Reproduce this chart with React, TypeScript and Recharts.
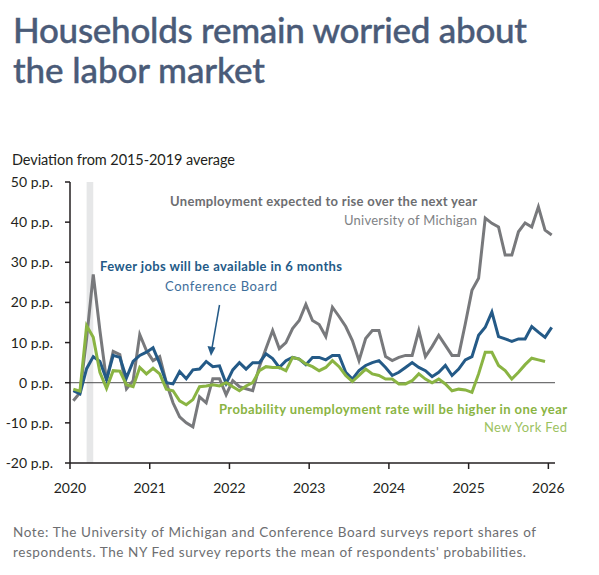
import { LineChart, Line, XAxis, YAxis, ReferenceArea, ReferenceLine } from "recharts";

// monthly readings, Jan 2020 onward (p.p. deviation from 2015-2019 average)
const michigan = [
  -4.5, -2.5, 11, 27, 13, 0.5, 7.8, 7, -1.5, 0.5, 12, 8,
  5.5, 6.5, 0, -5, -8.5, -10, -11, -3.5, -5, 1, 1, -3,
  0.5, -1, -1.5, -2, 4, 8.5, 13, 8.5, 10, 13.5, 15.5, 19.5,
  15.5, 14.5, 11.5, 18.8, 16.5, 14, 10.5, 5.5, 11, 13, 13, 6.5,
  5.5, 6.3, 6.8, 6.8, 13, 6.5, 9, 11.8, 9.3, 6.8, 6.8, 14.7,
  23, 26, 41, 39.7, 38.8, 31.8, 31.8, 37.6, 39.8, 38.8, 43.8, 38,
  36.8,
];
const confBoard = [
  -2, -2.8, 3.5, 6.5, 5.3, 0.8, 6.8, 6.3, 1.2, 5.3, 6.8, 7.6,
  8.7, 4.8, 0, -0.3, 2.8, 1, 3.2, 3.4, 5.3, 4, 4.2, -0.2,
  3.2, 5, 3.4, 5, 5, 7.2, 6, 3.8, 5.5, 6.3, 5.9, 4.5,
  6.3, 6.3, 5.7, 6.8, 6.8, 2.6, 0.9, 3, 4.3, 5, 5.5, 3.8,
  1.8, 2.6, 3.8, 5, 3.8, 3, 1.5, 2.6, 4.3, 1.8, 3.4, 5.7,
  6.5, 11.8, 13.8, 17.6, 11.5, 10.9, 10.3, 10.9, 10.9, 14, 12.6, 11.3,
  13.8,
];
const nyFed = [
  -1.6, -2.1, 14.2, 11.3, 2.6, -1.4, 3, 2.9, -0.5, -1, 3.8, 2.2,
  3.6, 2.2, -1.6, -2, -4.5, -5.5, -4.2, -1, -0.8, -0.5, -0.8, 0,
  -1, -2, -0.8, 0, 3, 4, 3.8, 3.8, 3, 6.3, 5.9, 4.7,
  4, 3, 3.8, 5.5, 4, 1.8, 0.3, 1.8, 3.4, 2.2, 1.8, 0.9,
  0.9, -0.3, -0.3, 0.5, 2.2, 0.9, 0, 0.9, -0.3, -2, -1.6, -1.8,
  -2.4, 2.2, 7.6, 7.6, 4.3, 3, 0.9, 2.6, 4.5, 6.1, 5.7, 5.3,
];
const yearTicks = [2020, 2021, 2022, 2023, 2024, 2025, 2026];
const valueTicks = [-20, -10, 0, 10, 20, 30, 40, 50];
const startYear = 2020;
const recession = [2020 + 2.5 / 12, 2020 + 3.5 / 12];

// points sit at mid-month
const data = michigan.map((v, i) => ({
  t: startYear + (i + 0.5) / 12,
  michigan: v,
  confBoard: confBoard[i],
  nyFed: i < nyFed.length ? nyFed[i] : null,
}));

const FONT = "Lato, 'DejaVu Sans', sans-serif";
const GRAY = "#78797c";
const BLUE = "#245a87";
const GREEN = "#8ab443";
const INK = "#231f20";

export default function App() {
  return (
    <div style={{ position: "absolute", left: 0, top: 0, width: 599, height: 575, background: "#fff", fontFamily: FONT }}>
      <LineChart width={599} height={575} data={data} margin={{ top: 182, right: 44, bottom: 82, left: 8 }}>
        <ReferenceArea x1={recession[0]} x2={recession[1]} y1={-20} y2={50} fill="#e6e7e8" fillOpacity={1} stroke="none" />
        <ReferenceLine y={0} stroke="#4d4d4f" strokeWidth={1} />
        <XAxis
          dataKey="t"
          type="number"
          domain={[startYear, startYear + 73 / 12]}
          ticks={yearTicks}
          tickFormatter={(v) => String(Math.round(v))}
          allowDataOverflow
          height={30}
          tickSize={6}
          tickMargin={14}
          stroke={INK}
          strokeWidth={1.5}
          tick={{ fill: INK, fontSize: 14, fontFamily: FONT }}
        />
        <YAxis
          domain={[-20, 50]}
          ticks={valueTicks}
          tickFormatter={(v) => `${v} p.p.`}
          width={62}
          tickSize={5}
          tickMargin={12}
          stroke={INK}
          strokeWidth={1.5}
          tick={{ fill: INK, fontSize: 14, fontFamily: FONT }}
        />
        <Line type="linear" dataKey="michigan" stroke={GRAY} strokeWidth={3} dot={false} isAnimationActive={false} />
        <Line type="linear" dataKey="confBoard" stroke={BLUE} strokeWidth={3} dot={false} isAnimationActive={false} />
        <Line type="linear" dataKey="nyFed" stroke={GREEN} strokeWidth={3} dot={false} isAnimationActive={false} />
      </LineChart>
      <svg width={599} height={575} style={{ position: "absolute", left: 0, top: 0, pointerEvents: "none" }} fontFamily={FONT}>
        <text x={13} y={43} fontSize={35} fontWeight={500} fill="#4a5b78" stroke="#4a5b78" strokeWidth={0.4} textLength={514}>Households remain worried about</text>
        <text x={13} y={83} fontSize={35} fontWeight={500} fill="#4a5b78" stroke="#4a5b78" strokeWidth={0.4} textLength={252}>the labor market</text>
        <text x={12} y={165} fontSize={14.5} fill={INK} textLength={223}>Deviation from 2015-2019 average</text>

        <text x={170} y={206} fontSize={13} fontWeight={700} fill="#6d6e71" textLength={307}>Unemployment expected to rise over the next year</text>
        <text x={344} y={225} fontSize={13} fill="#808285" textLength={133}>University of Michigan</text>

        <text x={100} y={271} fontSize={13} fontWeight={700} fill={BLUE} textLength={242}>Fewer jobs will be available in 6 months</text>
        <text x={165} y={290.5} fontSize={13} fill="#3d6e9a" textLength={112}>Conference Board</text>
        <line x1={219.5} y1={305} x2={212} y2={348} stroke={BLUE} strokeWidth={1.5} />
        <path d="M207.5,346 L211,356 L215.5,347.5 Z" fill={BLUE} />

        <text x={219} y={413.5} fontSize={13} fontWeight={700} fill={GREEN} textLength={348}>Probability unemployment rate will be higher in one year</text>
        <text x={484} y={432} fontSize={13} fill="#9cc25f" textLength={83}>New York Fed</text>

        <text x={13} y={537} fontSize={13.5} fill="#6d6e71" textLength={523}>Note: The University of Michigan and Conference Board surveys report shares of</text>
        <text x={13} y={556.5} fontSize={13.5} fill="#6d6e71" textLength={513}>respondents. The NY Fed survey reports the mean of respondents' probabilities.</text>
      </svg>
    </div>
  );
}
